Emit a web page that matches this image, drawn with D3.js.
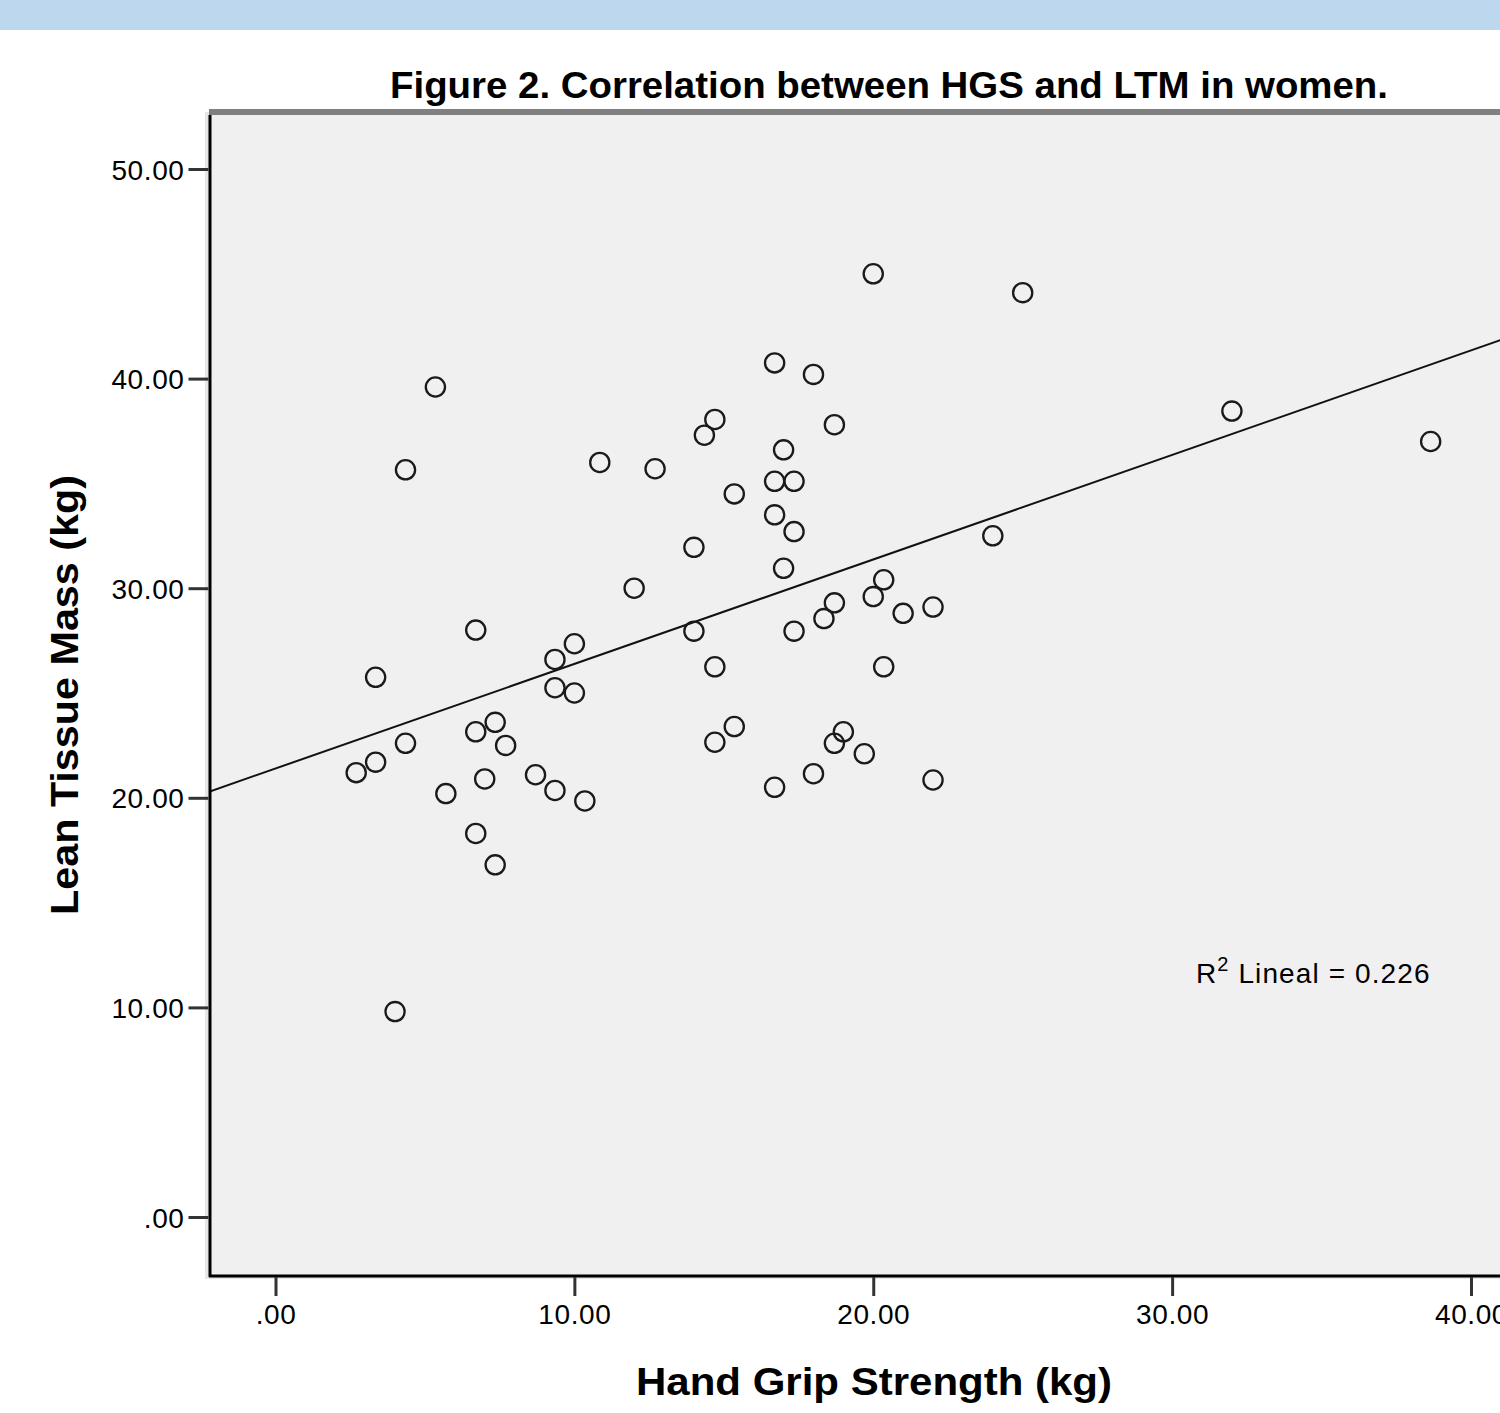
<!DOCTYPE html>
<html>
<head>
<meta charset="utf-8">
<script src="https://cdn.jsdelivr.net/npm/d3@7"></script>
<style>
  html, body { margin: 0; padding: 0; background: #ffffff; overflow: hidden; }
  svg { display: block; }
</style>
</head>
<body>
<svg id="chart" width="1500" height="1413"></svg>
<script>
// ---- Data ----
const hgs = [20.0, 25.0, 5.35, 4.35, 16.7, 18.0, 14.7, 14.35, 18.7, 17.0, 10.85, 12.7, 16.7, 17.35, 15.35, 16.7, 17.35, 14.0, 24.0, 32.0, 38.65, 17.0, 12.0, 20.35, 20.0, 18.7, 22.0, 21.0, 18.35, 6.7, 14.0, 17.35, 10.0, 9.35, 14.7, 20.35, 3.35, 9.35, 10.0, 7.35, 6.7, 15.35, 19.0, 7.7, 4.35, 14.7, 18.7, 19.7, 3.35, 2.7, 8.7, 7.0, 18.0, 22.0, 16.7, 9.35, 5.7, 10.35, 6.7, 7.35, 4.0];
const ltm = [45.0, 44.1, 39.6, 35.65, 40.75, 40.2, 38.05, 37.3, 37.8, 36.6, 36.0, 35.7, 35.1, 35.1, 34.5, 33.5, 32.7, 31.95, 32.5, 38.45, 37.0, 30.95, 30.0, 30.4, 29.6, 29.3, 29.1, 28.8, 28.55, 28.0, 27.95, 27.95, 27.35, 26.6, 26.25, 26.25, 25.75, 25.25, 25.0, 23.6, 23.15, 23.4, 23.15, 22.5, 22.6, 22.65, 22.6, 22.1, 21.7, 21.2, 21.1, 20.9, 21.15, 20.85, 20.5, 20.35, 20.2, 19.85, 18.3, 16.8, 9.8];
const xTicks = [0, 10, 20, 30, 40];
const yTicks = [0, 10, 20, 30, 40, 50];
const titleText = "Figure 2. Correlation between HGS and LTM in women.";
const xLabel = "Hand Grip Strength (kg)";
const yLabel = "Lean Tissue Mass (kg)";
const r2Value = "0.226";

const points = hgs.map((v, i) => ({x: v, y: ltm[i]}));

const svg = d3.select("#chart");
const FONT = "'Liberation Sans', Arial, 'DejaVu Sans', sans-serif";

// Header band
svg.append("rect").attr("x", 0).attr("y", 0).attr("width", 1500).attr("height", 30).attr("fill", "#bdd7ee");

// Scales
const x = d3.scaleLinear().domain([0, 40]).range([275.5, 1471]);
const y = d3.scaleLinear().domain([0, 50]).range([1217, 169]);

const plotLeft = 209, plotTop = 112, plotRight = 1545, plotBottom = 1276;

// Plot background
svg.append("rect").attr("x", plotLeft - 4).attr("y", plotTop).attr("width", plotRight - plotLeft + 4).attr("height", plotBottom - plotTop + 3).attr("fill", "#e6e6e6");
svg.append("rect").attr("x", plotLeft).attr("y", plotTop).attr("width", plotRight - plotLeft).attr("height", plotBottom - plotTop).attr("fill", "#f0f0f0");

// Title
svg.append("text").attr("x", 390).attr("y", 98)
  .attr("font-family", FONT).attr("font-weight", "bold").attr("font-size", 36)
  .attr("textLength", 998).attr("lengthAdjust", "spacingAndGlyphs")
  .attr("fill", "#000").text(titleText);

// Regression line (OLS from data)
const mx = d3.mean(hgs), my = d3.mean(ltm);
let sxy = 0, sxx = 0;
points.forEach(p => { sxy += (p.x - mx) * (p.y - my); sxx += (p.x - mx) ** 2; });
const slope = sxy / sxx, intercept = my - slope * mx;
const xd0 = x.invert(plotLeft), xd1 = x.invert(plotRight);
const clip = svg.append("defs").append("clipPath").attr("id", "plotclip");
clip.append("rect").attr("x", plotLeft).attr("y", plotTop).attr("width", plotRight - plotLeft).attr("height", plotBottom - plotTop);
const g = svg.append("g").attr("clip-path", "url(#plotclip)");
g.append("line")
  .attr("x1", x(xd0)).attr("y1", y(intercept + slope * xd0))
  .attr("x2", x(xd1)).attr("y2", y(intercept + slope * xd1))
  .attr("stroke", "#111").attr("stroke-width", 2);

// Points
g.selectAll("circle.pt").data(points).enter().append("circle")
  .attr("class", "pt")
  .attr("cx", d => x(d.x)).attr("cy", d => y(d.y)).attr("r", 9.6)
  .attr("fill", "none").attr("stroke", "#1a1a1a").attr("stroke-width", 2.3);

// R2 annotation
const r2 = svg.append("text").attr("x", 1196).attr("y", 983)
  .attr("font-family", FONT).attr("font-size", 28).attr("letter-spacing", 1.1).attr("fill", "#000");
r2.append("tspan").text("R");
r2.append("tspan").attr("font-size", 20).attr("dy", -12).text("2");
r2.append("tspan").attr("dy", 12).text(" Lineal = " + r2Value);

// Frame lines
svg.append("line").attr("x1", plotLeft).attr("x2", plotRight).attr("y1", plotTop).attr("y2", plotTop)
  .attr("stroke", "#808080").attr("stroke-width", 6);
svg.append("line").attr("x1", plotLeft + 1).attr("x2", plotLeft + 1).attr("y1", plotTop + 3).attr("y2", plotBottom + 1)
  .attr("stroke", "#000").attr("stroke-width", 3);
svg.append("line").attr("x1", plotLeft).attr("x2", plotRight).attr("y1", plotBottom).attr("y2", plotBottom)
  .attr("stroke", "#000").attr("stroke-width", 3);

// Y axis
const yAxis = d3.axisLeft(y).tickValues(yTicks).tickSize(20).tickPadding(4)
  .tickFormat(d => d === 0 ? ".00" : d3.format(".2f")(d));
const ya = svg.append("g").attr("transform", `translate(${plotLeft - 0.5},0)`).call(yAxis);
ya.select(".domain").remove();
ya.selectAll(".tick line").attr("stroke", "#333").attr("stroke-width", 3);
ya.selectAll(".tick text").attr("font-family", FONT).attr("font-size", 28).attr("letter-spacing", 0.6).attr("fill", "#000").attr("dy", "0.36em");

// X axis
const xAxis = d3.axisBottom(x).tickValues(xTicks).tickSize(19).tickPadding(8)
  .tickFormat(d => d === 0 ? ".00" : d3.format(".2f")(d));
const xa = svg.append("g").attr("transform", `translate(0,${plotBottom + 1})`).call(xAxis);
xa.select(".domain").remove();
xa.selectAll(".tick line").attr("stroke", "#333").attr("stroke-width", 3);
xa.selectAll(".tick text").attr("font-family", FONT).attr("font-size", 28).attr("letter-spacing", 0.6).attr("fill", "#000");

// Axis titles
svg.append("text").attr("x", 874).attr("y", 1395).attr("text-anchor", "middle")
  .attr("font-family", FONT).attr("font-weight", "bold").attr("font-size", 38)
  .attr("textLength", 476).attr("lengthAdjust", "spacingAndGlyphs")
  .attr("fill", "#000").text(xLabel);
svg.append("text").attr("transform", "translate(78,695) rotate(-90)").attr("text-anchor", "middle")
  .attr("font-family", FONT).attr("font-weight", "bold").attr("font-size", 38)
  .attr("textLength", 440).attr("lengthAdjust", "spacingAndGlyphs")
  .attr("fill", "#000").text(yLabel);
</script>
</body>
</html>
